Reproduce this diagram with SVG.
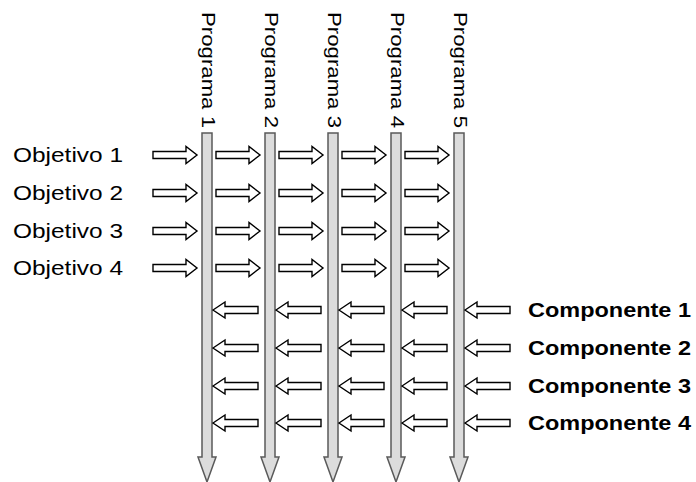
<svg xmlns="http://www.w3.org/2000/svg" width="696" height="482" viewBox="0 0 696 482">
<defs>
<style>
.bar{fill:#dcdcdc;stroke:#5a5a5a;stroke-width:1.5}
.arr{fill:#fff;stroke:#000;stroke-width:1.4;stroke-linejoin:miter}
.obj{font-family:"Liberation Sans",Arial,sans-serif;font-size:20px;fill:#000}
.comp{font-family:"Liberation Sans",Arial,sans-serif;font-size:21px;font-weight:bold;fill:#000}
.prog{font-family:"Liberation Sans",Arial,sans-serif;font-size:19px;fill:#000}
</style>
<path id="ra" d="M0,-3.5 H33 V-8.5 L44,0 L33,8.5 V3.5 H0 Z"/>
<path id="la" d="M0,0 L12,-8 V-3.5 H45 V3.5 H12 V8 Z"/>
</defs>
<rect width="696" height="482" fill="#fff"/>
<g id="programas">
<g id="programa1"><path class="bar" d="M202,133 H212 V457 H216 L207,482 L198,457 H202 Z"/><text class="prog" transform="translate(202,12) rotate(90)" textLength="116" lengthAdjust="spacingAndGlyphs">Programa 1</text></g>
<g id="programa2"><path class="bar" d="M265,133 H275 V457 H279 L270,482 L261,457 H265 Z"/><text class="prog" transform="translate(265,12) rotate(90)" textLength="116" lengthAdjust="spacingAndGlyphs">Programa 2</text></g>
<g id="programa3"><path class="bar" d="M328,133 H338 V457 H342 L333,482 L324,457 H328 Z"/><text class="prog" transform="translate(328,12) rotate(90)" textLength="116" lengthAdjust="spacingAndGlyphs">Programa 3</text></g>
<g id="programa4"><path class="bar" d="M391,133 H401 V457 H405 L396,482 L387,457 H391 Z"/><text class="prog" transform="translate(391,12) rotate(90)" textLength="116" lengthAdjust="spacingAndGlyphs">Programa 4</text></g>
<g id="programa5"><path class="bar" d="M454,133 H464 V457 H468 L459,482 L450,457 H454 Z"/><text class="prog" transform="translate(454,12) rotate(90)" textLength="116" lengthAdjust="spacingAndGlyphs">Programa 5</text></g>
</g>
<g id="objetivos">
<g id="objetivo1"><text class="obj" x="13" y="162" textLength="110" lengthAdjust="spacingAndGlyphs">Objetivo 1</text></g>
<g id="objetivo2"><text class="obj" x="13" y="200" textLength="110" lengthAdjust="spacingAndGlyphs">Objetivo 2</text></g>
<g id="objetivo3"><text class="obj" x="13" y="238" textLength="110" lengthAdjust="spacingAndGlyphs">Objetivo 3</text></g>
<g id="objetivo4"><text class="obj" x="13" y="275" textLength="110" lengthAdjust="spacingAndGlyphs">Objetivo 4</text></g>
</g>
<g id="componentes">
<g id="componente1"><text class="comp" x="528" y="317" textLength="163" lengthAdjust="spacingAndGlyphs">Componente 1</text></g>
<g id="componente2"><text class="comp" x="528" y="355" textLength="163" lengthAdjust="spacingAndGlyphs">Componente 2</text></g>
<g id="componente3"><text class="comp" x="528" y="393" textLength="163" lengthAdjust="spacingAndGlyphs">Componente 3</text></g>
<g id="componente4"><text class="comp" x="528" y="430" textLength="163" lengthAdjust="spacingAndGlyphs">Componente 4</text></g>
</g>
<g id="connectors">
<g id="objetivo-arrows">
<use href="#ra" class="arr" x="153" y="155"/><use href="#ra" class="arr" x="216" y="155"/><use href="#ra" class="arr" x="279" y="155"/><use href="#ra" class="arr" x="342" y="155"/><use href="#ra" class="arr" x="405" y="155"/>
<use href="#ra" class="arr" x="153" y="193"/><use href="#ra" class="arr" x="216" y="193"/><use href="#ra" class="arr" x="279" y="193"/><use href="#ra" class="arr" x="342" y="193"/><use href="#ra" class="arr" x="405" y="193"/>
<use href="#ra" class="arr" x="153" y="231"/><use href="#ra" class="arr" x="216" y="231"/><use href="#ra" class="arr" x="279" y="231"/><use href="#ra" class="arr" x="342" y="231"/><use href="#ra" class="arr" x="405" y="231"/>
<use href="#ra" class="arr" x="153" y="268"/><use href="#ra" class="arr" x="216" y="268"/><use href="#ra" class="arr" x="279" y="268"/><use href="#ra" class="arr" x="342" y="268"/><use href="#ra" class="arr" x="405" y="268"/>
</g>
<g id="componente-arrows">
<use href="#la" class="arr" x="213" y="310"/><use href="#la" class="arr" x="276" y="310"/><use href="#la" class="arr" x="339" y="310"/><use href="#la" class="arr" x="402" y="310"/><use href="#la" class="arr" x="465" y="310"/>
<use href="#la" class="arr" x="213" y="348"/><use href="#la" class="arr" x="276" y="348"/><use href="#la" class="arr" x="339" y="348"/><use href="#la" class="arr" x="402" y="348"/><use href="#la" class="arr" x="465" y="348"/>
<use href="#la" class="arr" x="213" y="386"/><use href="#la" class="arr" x="276" y="386"/><use href="#la" class="arr" x="339" y="386"/><use href="#la" class="arr" x="402" y="386"/><use href="#la" class="arr" x="465" y="386"/>
<use href="#la" class="arr" x="213" y="423"/><use href="#la" class="arr" x="276" y="423"/><use href="#la" class="arr" x="339" y="423"/><use href="#la" class="arr" x="402" y="423"/><use href="#la" class="arr" x="465" y="423"/>
</g>
</g>
</svg>
